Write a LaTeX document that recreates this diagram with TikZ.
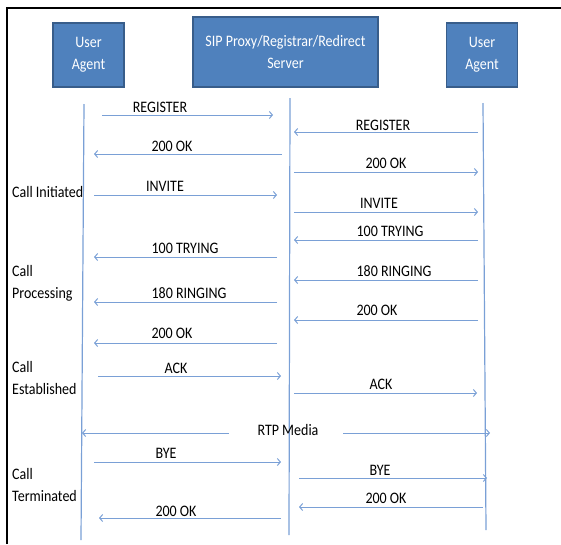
\documentclass[tikz,border=0pt]{standalone}
\usepackage{fontspec}
\setmainfont{Carlito}[FakeStretch=0.875]
\usetikzlibrary{arrows.meta}

\definecolor{boxfill}{RGB}{79,129,189}
\definecolor{boxline}{RGB}{56,93,138}
\definecolor{flow}{RGB}{122,160,214}

\tikzset{
  agent/.style={draw=boxline, line width=1.2pt, fill=boxfill, text=white,
    align=center, font=\fontsize{16}{22}\selectfont},
  life/.style={draw=flow, line width=1.2pt},
  msg/.style={draw=flow, line width=1pt, -{Straight Barb[length=3pt,width=7pt]}},
  lbl/.style={font=\fontsize{16}{22}\selectfont, inner sep=0pt, anchor=base},
  phase/.style={font=\fontsize{16}{22}\selectfont, inner sep=0pt, align=left, anchor=base west}
}

\begin{document}
\begin{tikzpicture}[x=1pt,y=-1pt]

\useasboundingbox (0,0) rectangle (561,544);
\draw[line width=2pt] (6.5,544) -- (6.5,7.5) -- (561,7.5);

% the three parties
\node[agent, minimum width=71pt, minimum height=64pt] (ua1) at (88.5,55) {User\\Agent};
\node[agent, minimum width=185pt, minimum height=70pt] (srv) at (285.5,52) {SIP Proxy/Registrar/Redirect\\Server};
\node[agent, minimum width=71pt, minimum height=64pt] (ua2) at (482,55) {User\\Agent};

% lifelines
\coordinate (l1) at (84,104);
\coordinate (l2) at (81,540);
\coordinate (s1) at (290,98);
\coordinate (s2) at (289,535);
\coordinate (r1) at (483,103);
\coordinate (r2) at (486,530);
\draw[life] (l1) -- (l2);
\draw[life] (s1) -- (s2);
\draw[life] (r1) -- (r2);

% phases (base is the last line)
\node[phase] (p1) at (12,197) {Call Initiated};
\node[phase] (p2) at (12,298) {Call\\Processing};
\node[phase] (p3) at (12,394) {Call\\Established};
\node[phase] (p4) at (12,501) {Call\\Terminated};

% registration
\coordinate (a1) at (102,115);  \coordinate (b1) at (273,115);
\coordinate (a2) at (478,132);  \coordinate (b2) at (294,132);
\coordinate (a3) at (282,154);  \coordinate (b3) at (94,154);
\coordinate (a4) at (294,172);  \coordinate (b4) at (478,172);
\draw[msg] (a1) -- (b1);
\draw[msg] (a2) -- (b2);
\draw[msg] (a3) -- (b3);
\draw[msg] (a4) -- (b4);
\node[lbl] (t1) at (160,112) {REGISTER};
\node[lbl] (t2) at (383,130) {REGISTER};
\node[lbl] (t3) at (172,151) {200 OK};
\node[lbl] (t4) at (386,168) {200 OK};

% call set-up
\coordinate (a5) at (94,195);   \coordinate (b5) at (277,195);
\coordinate (a6) at (294,212);  \coordinate (b6) at (478,212);
\coordinate (a7) at (478,240);  \coordinate (b7) at (294,240);
\coordinate (a8) at (277,257);  \coordinate (b8) at (94,257);
\coordinate (a9) at (478,280);  \coordinate (b9) at (294,280);
\coordinate (a10) at (277,302); \coordinate (b10) at (94,302);
\coordinate (a11) at (478,320); \coordinate (b11) at (294,320);
\coordinate (a12) at (277,343); \coordinate (b12) at (94,343);
\draw[msg] (a5) -- (b5);
\draw[msg] (a6) -- (b6);
\draw[msg] (a7) -- (b7);
\draw[msg] (a8) -- (b8);
\draw[msg] (a9) -- (b9);
\draw[msg] (a10) -- (b10);
\draw[msg] (a11) -- (b11);
\draw[msg] (a12) -- (b12);
\node[lbl] (t5) at (165,191) {INVITE};
\node[lbl] (t6) at (379,208) {INVITE};
\node[lbl] (t7) at (390,236) {100 TRYING};
\node[lbl] (t8) at (185,253) {100 TRYING};
\node[lbl] (t9) at (394,276) {180 RINGING};
\node[lbl] (t10) at (189,298) {180 RINGING};
\node[lbl] (t11) at (377,315) {200 OK};
\node[lbl] (t12) at (172,338) {200 OK};

% established
\coordinate (a13) at (98,376);  \coordinate (b13) at (281,376);
\coordinate (a14) at (294,393); \coordinate (b14) at (477,393);
\draw[msg] (a13) -- (b13);
\draw[msg] (a14) -- (b14);
\node[lbl] (t13) at (176,373) {ACK};
\node[lbl] (t14) at (381,389) {ACK};

% media
\node[lbl] (rtp) at (288,435) {RTP Media};
\coordinate (m1) at (229,433);  \coordinate (m2) at (82,433);
\coordinate (m3) at (343,433);  \coordinate (m4) at (490,433);
\draw[msg] (m1) -- (m2);
\draw[msg] (m3) -- (m4);

% tear-down
\coordinate (a15) at (94,462);  \coordinate (b15) at (281,462);
\coordinate (a16) at (299,478); \coordinate (b16) at (487,478);
\coordinate (a17) at (483,507); \coordinate (b17) at (299,507);
\coordinate (a18) at (281,518); \coordinate (b18) at (99,518);
\draw[msg] (a15) -- (b15);
\draw[msg] (a16) -- (b16);
\draw[msg] (a17) -- (b17);
\draw[msg] (a18) -- (b18);
\node[lbl] (t15) at (166,458) {BYE};
\node[lbl] (t16) at (380,475) {BYE};
\node[lbl] (t17) at (386,503) {200 OK};
\node[lbl] (t18) at (176,516) {200 OK};

\end{tikzpicture}
\end{document}
